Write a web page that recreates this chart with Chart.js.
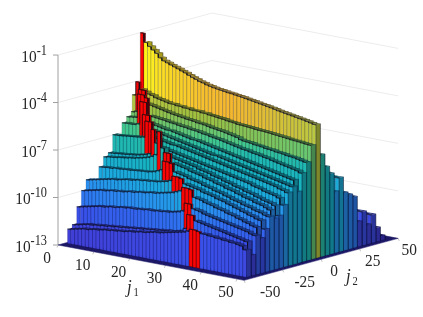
<!DOCTYPE html>
<html><head><meta charset="utf-8">
<style>html,body{margin:0;padding:0;background:#fff}canvas{display:block}</style>
<script src="https://cdn.jsdelivr.net/npm/chart.js@4"></script>
</head><body><canvas id="c" width="423" height="317"></canvas>
<script>
// log10 of the bar value, one list per j2 row, j1 = 1..50 (null: no bar)
const j2Rows=[-45,-42,-39,-36,-33,-30,-27,-24,-21,-18,-15,-12,-9,-6,-3,0];
const rowM45=[-12.1,-12.05,-12,-11.95,-11.9,-11.9,-11.85,-11.8,-11.8,-11.75,-11.7,-11.7,-11.65,-11.65,-11.6,-11.6,-11.55,-11.5,-11.5,-11.45,-11.4,-11.4,-11.35,-11.3,-11.25,-11.25,-11.2,-11.15,-11.1,-11.05,-11,-10.95,-10.9,-10.8,-10.64,-10.64,-10.7,-10.8,-10.8,-10.85,-10.85,-10.9,-10.9,-10.95,-10.95,-11,-11,-11.05,-11.1,-11.3];
const rowM42=[-11.9,-11.85,-11.8,-11.75,-11.7,-11.7,-11.65,-11.65,-11.6,-11.6,-11.55,-11.55,-11.5,-11.5,-11.45,-11.45,-11.4,-11.4,-11.35,-11.35,-11.3,-11.3,-11.25,-11.25,-11.2,-11.2,-11.15,-11.15,-11.1,-11.05,-11,-10.8,-9.88,-9.88,-10.2,-10.25,-10.3,-10.35,-10.4,-10.45,-10.5,-10.55,-10.6,-10.65,-10.7,-10.75,-10.8,-10.85,-10.9,-11.7];
const rowM39=[-10.85,-10.8,-10.75,-10.7,-10.65,-10.6,-10.55,-10.55,-10.5,-10.45,-10.45,-10.4,-10.35,-10.35,-10.3,-10.3,-10.3,-10.25,-10.25,-10.2,-10.2,-10.2,-10.15,-10.15,-10.1,-10.1,-10.05,-10,-9.95,-9.85,-9.33,-9.33,-9.6,-9.65,-9.7,-9.8,-9.85,-9.9,-9.95,-10,-10.05,-10.1,-10.15,-10.2,-10.25,-10.3,-10.35,-10.4,-10.5,-10.55];
const rowM36=[-9.9,-9.85,-9.8,-9.75,-9.7,-9.65,-9.65,-9.6,-9.55,-9.55,-9.5,-9.5,-9.45,-9.4,-9.4,-9.35,-9.3,-9.3,-9.25,-9.2,-9.2,-9.15,-9.1,-9.05,-9,-8.95,-8.85,-8.75,-8.5,-8.5,-8.55,-9,-9.05,-9.1,-9.2,-9.25,-9.3,-9.4,-9.45,-9.5,-9.6,-9.65,-9.7,-9.8,-9.85,-9.95,-10,-10.1,-10.15,-10.8];
const rowM33=[-9.3,-9.25,-9.2,-9.15,-9.1,-9.05,-9,-8.95,-8.95,-8.9,-8.85,-8.8,-8.8,-8.75,-8.7,-8.7,-8.65,-8.65,-8.6,-8.6,-8.55,-8.5,-8.45,-8.35,-8.04,-8.04,-8.1,-8.4,-8.45,-8.5,-8.55,-8.6,-8.7,-8.75,-8.8,-8.85,-8.95,-9,-9.05,-9.15,-9.2,-9.3,-9.35,-9.45,-9.5,-9.6,-9.65,-9.75,-9.8,-10.3];
const rowM30=[-9.6,-9.55,-9.5,-9.45,-9.45,-9.4,-9.35,-9.3,-9.3,-9.25,-9.2,-9.2,-9.15,-9.1,-9.1,-9.05,-9,-8.95,-8.9,-8.7,-7.34,-7.34,-7.4,-7.9,-7.95,-8,-8.05,-8.15,-8.2,-8.25,-8.3,-8.4,-8.45,-8.5,-8.6,-8.65,-8.7,-8.8,-8.85,-8.95,-9,-9.05,-9.15,-9.2,-9.25,-9.35,-9.4,-9.45,-9.55,-9.6];
const rowM27=[null,-8.6,-8.58,-8.55,-8.55,-8.5,-8.5,-8.48,-8.45,-8.45,-8.42,-8.4,-8.38,-8.35,-8.35,-8.3,-8.25,-8.15,-8.05,-6.92,-6.92,-7.5,-7.55,-7.6,-7.65,-7.7,-7.8,-7.85,-7.9,-7.95,-8.05,-8.1,-8.15,-8.25,-8.3,-8.35,-8.45,-8.5,-8.55,-8.65,-8.7,-8.8,-8.85,-8.9,-9,-9.05,-9.1,-9.2,-9.3,-9.8];
const rowM24=[null,-8.05,-8,-7.98,-7.95,-7.9,-7.88,-7.85,-7.8,-7.78,-7.72,-7.68,-7.62,-7.55,-7.45,-7.3,-5.8,-6.8,-7.2,-7.25,-7.3,-7.35,-7.4,-7.45,-7.5,-7.55,-7.6,-7.7,-7.75,-7.8,-7.85,-7.95,-8,-8.05,-8.15,-8.2,-8.25,-8.35,-8.4,-8.45,-8.55,-8.6,-8.65,-8.75,-8.8,-8.9,-8.95,-9,-9.1,-9.7];
const rowM21=[null,-7.87,-7.85,-7.82,-7.8,-7.78,-7.75,-7.72,-7.7,-7.65,-7.6,-7.55,-7.45,-5.88,-6.7,-6.9,-6.95,-7,-7.05,-7.1,-7.15,-7.2,-7.25,-7.3,-7.35,-7.4,-7.45,-7.5,-7.55,-7.6,-7.65,-7.7,-7.75,-7.8,-7.85,-7.9,-7.95,-8,-8.05,-8.1,-8.15,-8.25,-8.3,-8.35,-8.45,-8.5,-8.55,-8.6,-8.7,-9.1];
const rowM18=[null,-6.81,-6.8,-6.78,-6.75,-6.72,-6.7,-6.68,-6.65,-6.6,-5.56,-5.56,-6.5,-6.55,-6.6,-6.65,-6.7,-6.75,-6.75,-6.8,-6.85,-6.9,-6.95,-7,-7.05,-7.1,-7.15,-7.2,-7.25,-7.3,-7.35,-7.4,-7.45,-7.5,-7.55,-7.6,-7.65,-7.7,-7.75,-7.8,-7.85,-7.9,-7.95,-8,-8.05,-8.1,-8.15,-8.25,-8.3,-8.4];
const rowM15=[null,-6.95,-6.92,-6.9,-6.88,-6.85,-6.82,-6.75,-5.31,-5.31,-6.2,-6.25,-6.3,-6.35,-6.4,-6.45,-6.5,-6.55,-6.6,-6.65,-6.7,-6.75,-6.8,-6.85,-6.9,-6.95,-7,-7.05,-7.05,-7.1,-7.15,-7.2,-7.25,-7.3,-7.35,-7.4,-7.45,-7.5,-7.55,-7.6,-7.65,-7.7,-7.75,-7.8,-7.85,-7.9,-7.95,-8,-8.05,-8.1];
const rowM12=[null,-6.22,-6.2,-6.2,-6.18,-6.1,-4.66,-4.66,-5.9,-5.95,-6,-6.05,-6.1,-6.15,-6.15,-6.2,-6.25,-6.3,-6.35,-6.4,-6.45,-6.45,-6.5,-6.55,-6.6,-6.65,-6.7,-6.75,-6.8,-6.85,-6.9,-6.95,-7,-7.05,-7.1,-7.15,-7.2,-7.25,-7.3,-7.35,-7.4,-7.45,-7.5,-7.55,-7.6,-7.65,-7.7,-7.75,-7.8,-8.5];
const rowM9=[null,-5.91,-5.88,-5.85,-4.35,-4.35,-4.5,-5.6,-5.62,-5.65,-5.68,-5.7,-5.75,-5.78,-5.8,-5.85,-5.88,-5.9,-5.95,-5.98,-6,-6.05,-6.1,-6.12,-6.18,-6.22,-6.25,-6.3,-6.35,-6.4,-6.45,-6.5,-6.55,-6.6,-6.62,-6.68,-6.72,-6.75,-6.8,-6.85,-6.88,-6.95,-7,-7.05,-7.1,-7.15,-7.2,-7.25,-7.3,-7.4];
const rowM6=[null,-5.67,-5.6,-4.18,-4.18,-5,-5.05,-5.1,-5.15,-5.2,-5.25,-5.3,-5.35,-5.38,-5.42,-5.45,-5.5,-5.52,-5.55,-5.6,-5.62,-5.65,-5.7,-5.75,-5.78,-5.82,-5.85,-5.9,-5.95,-6,-6.05,-6.15,-6.2,-6.22,-6.25,-6.3,-6.32,-6.35,-6.4,-6.42,-6.45,-6.5,-6.52,-6.55,-6.6,-6.62,-6.65,-6.7,-6.75,-6.8];
const rowM3=[-4.73,-3.86,-4.3,-4.4,-4.5,-4.55,-4.65,-4.7,-4.75,-4.8,-4.85,-4.85,-4.9,-4.9,-4.95,-4.95,-5,-5,-5,-5.05,-5.05,-5.1,-5.12,-5.15,-5.18,-5.2,-5.25,-5.28,-5.3,-5.35,-5.36,-5.38,-5.4,-5.42,-5.45,-5.47,-5.48,-5.5,-5.52,-5.55,-5.57,-5.6,-5.62,-5.65,-5.68,-5.7,-5.72,-5.75,-5.78,-5.8];
const row0=[null,-0.85,-1.41,-1.62,-1.8,-1.97,-2.21,-2.36,-2.44,-2.53,-2.61,-2.69,-2.78,-2.86,-2.97,-3.06,-3.14,-3.23,-3.28,-3.36,-3.41,-3.46,-3.5,-3.53,-3.56,-3.6,-3.62,-3.66,-3.69,-3.72,-3.76,-3.8,-3.84,-3.88,-3.92,-3.96,-4,-4.04,-4.09,-4.14,-4.18,-4.22,-4.26,-4.3,-4.34,-4.38,-4.42,-4.47,-4.52,-4.57];
const rowValues=[rowM45,rowM42,rowM39,rowM36,rowM33,rowM30,rowM27,rowM24,rowM21,rowM18,rowM15,rowM12,rowM9,rowM6,rowM3,row0];
// first and last j1 of the red ridge in each j2 row
const ridgeFirst=[35,33,31,29,25,21,20,17,14,11,9,7,5,4,2,2];
const ridgeLast =[37,34,32,31,27,23,21,17,14,12,10,8,7,5,2,2];
// far side of the j2 range: only j1 = 48, 49, 50 can be seen
const j2Far=[3,6,9,12,15,18,21,24,27,30,33,36,39,42];
const farValues=[[-6.6,-6.6,-6.56],[-7.4,-7.4,-7.4],[-7.9,-7.9,-7.91],[-9.13,-9.13,-9.13],[-8.33,-8.33,-8.33],[-9.35,-9.35,-9.35],[-9.56,-9.56,-9.56],[-9.78,-9.78,-9.78],[-11.42,-11.42,-11.42],[-10.87,-10.87,-10.87],[-11.77,-11.77,-11.77],[-11.22,-11.22,-11.22],[-12.12,-12.12,-12.12],[-12.7,-12.7,-12.7]];
const zTicks=[-1,-4,-7,-10,-13];
const j1Ticks=[0,10,20,30,40,50];
const j2Ticks=[-50,-25,0,25,50];
const colorStops=[[-13,[58,47,192]],[-12,[64,64,216]],[-10.8,[58,80,232]],[-10,[48,112,240]],[-9.3,[42,144,240]],[-8.6,[28,168,222]],[-7.5,[24,180,192]],[-6.7,[32,184,176]],[-6.2,[64,200,144]],[-5.9,[96,200,120]],[-5,[160,192,64]],[-4.6,[184,200,64]],[-3.6,[245,184,48]],[-1.7,[253,238,32]],[-0.8,[255,255,0]]];

// oblique view: j1 and j2 run along the floor, z goes up in decades
const b=j=>j+50;
const PX=(a,j)=>58+3.58*a+1.54*b(j);
const PY=(a,j,z)=>245+0.68*a-0.42*b(j)-15.83*(z+13);
const P=(a,j,z)=>({x:PX(a,j),y:PY(a,j,z)});
function mix(z,k){
  let s=colorStops,c=s[s.length-1][1];
  for(let i=0;i<s.length-1;i++){ if(z<=s[i+1][0]){const t=Math.max(0,(z-s[i][0])/(s[i+1][0]-s[i][0]));
    c=s[i][1].map((v,n)=>v+(s[i+1][1][n]-v)*t);break;} }
  return `rgb(${c.map(v=>Math.round(v*k)).join(',')})`;
}
const paint=[];
function poly(pts,fill,stroke,w){paint.push({data:[...pts,pts[0]],showLine:true,fill:'shape',backgroundColor:fill,borderColor:stroke,borderWidth:w,pointRadius:0,tension:0});}
function line(pts,stroke,w){paint.push({data:pts,showLine:true,fill:false,borderColor:stroke,borderWidth:w,pointRadius:0,tension:0});}

// back walls and floor
const FLOOR=52;
zTicks.forEach(z=>line([P(0,-50,z),P(0,50,z),P(FLOOR,50,z)],'#ececec',1));
line([P(0,-50,-13),P(0,-50,-1)],'#a0a0a0',1);
zTicks.forEach(z=>line([{x:PX(0,-50)-5,y:PY(0,-50,z)},P(0,-50,z)],'#a0a0a0',1));
j1Ticks.forEach(t=>line([P(t,-50,-13),{x:PX(t,-50)-1,y:PY(t,-50,-13)+2.5}],'#c4c4c4',1));
j2Ticks.forEach(t=>line([P(FLOOR,t,-13),{x:PX(FLOOR,t)+1,y:PY(FLOOR,t,-13)+2.5}],'#c4c4c4',1));
poly([P(0,-50,-13),P(FLOOR,-50,-13),P(FLOOR,50,-13),P(0,50,-13)],'#1c1866','#1c1866',0.5);

const DEPTH=3;
function drawRow(j2,vals,firstJ1,rf,rl){
  const edge=[];
  vals.forEach((z,i)=>{
    if(z===null)return;
    const j1=firstJ1+i,lo=j1-.5,hi=j1+.5,red=j1>=rf&&j1<=rl;
    const next=vals[i+1];
    edge.push(P(lo,j2,z),P(hi,j2,z));
    const d=red?1:DEPTH;
    // top face
    poly([P(lo,j2,z),P(hi,j2,z),P(hi,j2+d,z),P(lo,j2+d,z)],red?'#b00000':mix(z,.5),'rgba(0,0,0,0)',0);
    // right face, when the next bar is lower
    if(next===undefined||next===null||next<z){
      const low=next===undefined||next===null?-13:next;
      poly([P(hi,j2,z),P(hi,j2+d,z),P(hi,j2+d,low),P(hi,j2,low)],red?'#d40000':mix(z,.68),'rgba(0,0,30,.3)',0.6);
    }
    // front face
    poly([P(lo,j2,z),P(hi,j2,z),P(hi,j2,-13),P(lo,j2,-13)],red?'#fa0505':mix(z,1),red?'rgba(70,0,0,.55)':'rgba(0,0,40,.22)',0.6);
  });
  line(edge,'rgba(15,15,25,.85)',0.8);
}
for(let r=j2Far.length-1;r>=0;r--) drawRow(j2Far[r],farValues[r],48,99,0);
for(let r=j2Rows.length-1;r>=0;r--) drawRow(j2Rows[r],rowValues[r],1,ridgeFirst[r],ridgeLast[r]);

const INK='#262626',SERIF='"Liberation Serif"',SQUEEZE=0.88;
const j2LabelDx=[26,22,13,13,11];
const textPlugin={id:'axisText',afterDraw(ch){
  const c=ch.ctx,sx=ch.scales.x,sy=ch.scales.y;c.save();c.fillStyle=INK;
  const put=(s,x,y,font,al,bl)=>{c.save();c.font=font;c.textAlign=al;c.textBaseline=bl||'alphabetic';c.translate(x,y);c.scale(SQUEEZE,1);c.fillText(s,0,0);c.restore();};
  const width=(s,font)=>{c.save();c.font=font;const w=c.measureText(s).width*SQUEEZE;c.restore();return w;};
  const big=`17.5px ${SERIF}`,small=`14px ${SERIF}`;
  zTicks.forEach(z=>{
    const base=sy.getPixelForValue(PY(0,-50,z))+6.5;
    const exp=String(z);const w=width(exp,small);const R=sx.getPixelForValue(47);
    put(exp,R-w,base-7,small,'left');
    put('10',R-w,base,big,'right');
  });
  j1Ticks.forEach(t=>put(String(t),PX(t,-50)-11,PY(t,-50,-13)+13.5,big,'center','middle'));
  j2Ticks.forEach((t,i)=>put(String(t),PX(FLOOR,t)+j2LabelDx[i],PY(FLOOR,t,-13)+12.5,big,'center','middle'));
  const sub=(x,y,n)=>{put('j',x,y,`italic 19px ${SERIF}`,'left');put(n,x+6.5,y+3,`12px ${SERIF}`,'left');};
  sub(127,293,'1');sub(346,282,'2');
  c.restore();
}};
new Chart(document.getElementById('c'),{type:'scatter',
  data:{datasets:paint.reverse()},
  options:{responsive:false,animation:false,parsing:false,normalized:true,devicePixelRatio:1,
    layout:{padding:0},events:[],
    plugins:{legend:{display:false},tooltip:{enabled:false},title:{display:false}},
    scales:{x:{type:'linear',min:0,max:423,display:false},y:{type:'linear',min:0,max:317,reverse:true,display:false}}},
  plugins:[textPlugin]});
</script></body></html>
